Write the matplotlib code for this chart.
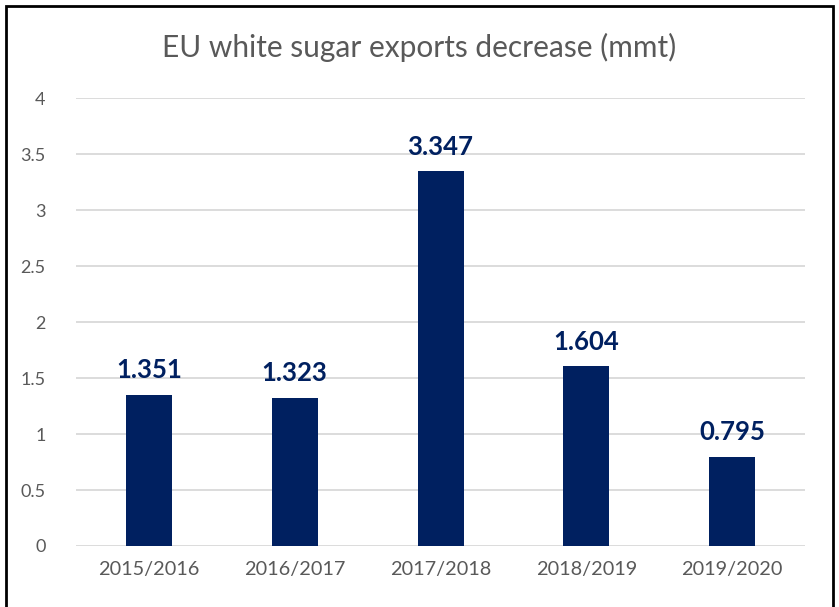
import matplotlib.pyplot as plt
from matplotlib.patches import Rectangle

seasons = ["2015/2016", "2016/2017", "2017/2018", "2018/2019", "2019/2020"]
exports = [1.351, 1.323, 3.347, 1.604, 0.795]
value_labels = ["1.351", "1.323", "3.347", "1.604", "0.795"]

plt.rcParams['font.family'] = ['Lato', 'DejaVu Sans']

fig = plt.figure(figsize=(8.39, 6.07), dpi=100)
ax = fig.add_axes([0.0906, 0.1005, 0.869, 0.738])

bars = ax.bar(range(len(seasons)), exports, width=0.316, color="#002060", zorder=3)

for b, lab in zip(bars, value_labels):
    ax.annotate(lab, (b.get_x() + b.get_width() / 2, b.get_height()),
                xytext=(0, 9), textcoords="offset points",
                ha="center", va="bottom", fontsize=18.5, fontweight="bold",
                color="#002060")

ax.set_ylim(0, 4)
ax.set_xlim(-0.5, len(seasons) - 0.5)
ax.set_yticks([0, 0.5, 1, 1.5, 2, 2.5, 3, 3.5, 4])
ax.set_yticklabels(["0", "0.5", "1", "1.5", "2", "2.5", "3", "3.5", "4"])
ax.set_xticks(range(len(seasons)))
ax.set_xticklabels(seasons)
ax.tick_params(axis="both", length=0, labelsize=13, labelcolor="#595959")
ax.tick_params(axis="x", labelsize=14.3, pad=11)
ax.tick_params(axis="y", pad=22)
ax.grid(axis="y", color="#d9d9d9", linewidth=1.3, zorder=0)
for s in ax.spines.values():
    s.set_visible(False)

fig.text(0.5, 0.922, "EU white sugar exports decrease (mmt)", ha="center", va="center",
         fontsize=21.5, color="#595959")

# chart border
fig.patches.append(Rectangle((6 / 839, -0.05), 827 / 839, 1.05 - 6 / 607, transform=fig.transFigure,
                             fill=False, edgecolor="black", linewidth=2))

fig.savefig("out.png", dpi=100)
